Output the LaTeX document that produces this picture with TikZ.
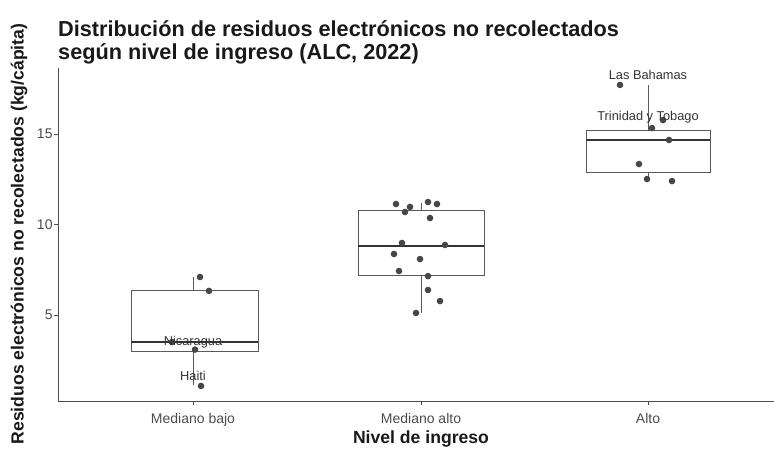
\documentclass[tikz,border=0pt]{standalone}
\usepackage{fontspec}
\setmainfont{Liberation Sans}
\usetikzlibrary{positioning}

\begin{document}
\begin{tikzpicture}[x=1pt,y=1pt,
    dot/.style={circle,fill=black!72,inner sep=0pt,minimum size=6.6pt},
    boxline/.style={draw=black!65,line width=0.9pt},
    median/.style={draw=black!80,line width=2.3pt},
    axis/.style={draw=black!70,line width=0.9pt},
    ticklab/.style={font=\fontsize{14}{14}\selectfont,text=black!70,inner sep=1pt},
    lab/.style={font=\fontsize{12.8}{13}\selectfont,text=black!80,inner sep=0pt},
    axtitle/.style={font=\fontsize{17.6}{18}\selectfont\bfseries,text=black!90,inner sep=0pt},
    maintitle/.style={font=\fontsize{21.7}{23}\selectfont\bfseries,text=black!90,inner sep=0pt,anchor=base west}]
  \useasboundingbox (0,0) rectangle (774,450);

  %% Title
  \node[maintitle] (title1) at (58,413) {Distribución de residuos electrónicos no recolectados};
  \node[maintitle] (title2) at ([yshift=-23pt]title1.base west) {según nivel de ingreso (ALC, 2022)};

  %% Axis titles
  \node[axtitle,rotate=90] (ytitle) at (19,216) {Residuos electrónicos no recolectados (kg/cápita)};
  \node[axtitle,anchor=base] (xtitle) at (421,7) {Nivel de ingreso};

  \begin{scope}[yshift=44.5pt,y=18.1pt]
    %%%%%%%%%%%%%%%%%%%%%%%%%%%%%%%%%%%%%%%%%%%%%%%%%%%%%%%%%%%
    %% Axes
    %%%%%%%%%%%%%%%%%%%%%%%%%%%%%%%%%%%%%%%%%%%%%%%%%%%%%%%%%%%
    \coordinate (o)    at (58,0.25);
    \coordinate (ytop) at (58,18.65);
    \coordinate (xend) at (774,0.25);
    \draw[axis] (ytop) -- (o) -- (xend);

    \coordinate (y5)  at (58,5);
    \coordinate (y10) at (58,10);
    \coordinate (y15) at (58,15);
    \draw[axis] (y5)  -- ++(-4,0) node[ticklab,left] {5};
    \draw[axis] (y10) -- ++(-4,0) node[ticklab,left] {10};
    \draw[axis] (y15) -- ++(-4,0) node[ticklab,left] {15};

    \coordinate (xbajo) at (193,0.25);
    \coordinate (xalto) at (421,0.25);
    \coordinate (xrico) at (648,0.25);
    \draw[axis] (xbajo) -- ++(0,-4pt) coordinate (tbajo);
    \draw[axis] (xalto) -- ++(0,-4pt) coordinate (talto);
    \draw[axis] (xrico) -- ++(0,-4pt) coordinate (trico);
    \node[ticklab,below=7pt of tbajo] (lbajo) {Mediano bajo};
    \node[ticklab,below=7pt of talto] (lalto) {Mediano alto};
    \node[ticklab,below=7pt of trico] (lrico) {Alto};

    %%%%%%%%%%%%%%%%%%%%%%%%%%%%%%%%%%%%%%%%%%%%%%%%%%%%%%%%%%%
    %% Mediano bajo
    %%%%%%%%%%%%%%%%%%%%%%%%%%%%%%%%%%%%%%%%%%%%%%%%%%%%%%%%%%%
    \draw[boxline] (193,6.33) -- (193,7.10);
    \draw[boxline] (193,2.96) -- (193,1.13);
    \draw[boxline] (131,2.96) rectangle (258,6.33);
    \draw[median]  (131,3.51) -- (258,3.51);

    \node[dot] (b1) at (200,7.10) {};
    \node[dot] (b2) at (209,6.33) {};
    \node[dot] (b3) at (172,3.51) {};
    \node[dot] (b4) at (195,3.09) {};
    \node[dot] (b5) at (201,1.08) {};

    \node[lab] (nicaragua) at (193,3.51) {Nicaragua};
    \node[lab] (haiti)     at (193,1.63) {Haiti};

    %%%%%%%%%%%%%%%%%%%%%%%%%%%%%%%%%%%%%%%%%%%%%%%%%%%%%%%%%%%
    %% Mediano alto
    %%%%%%%%%%%%%%%%%%%%%%%%%%%%%%%%%%%%%%%%%%%%%%%%%%%%%%%%%%%
    \draw[boxline] (421,10.80) -- (421,11.19);
    \draw[boxline] (421,7.21) -- (421,5.11);
    \draw[boxline] (358,7.21) rectangle (484,10.80);
    \draw[median]  (358,8.81) -- (484,8.81);

    \node[dot] (m1)  at (396,11.13) {};
    \node[dot] (m2)  at (410,10.97) {};
    \node[dot] (m3)  at (405,10.69) {};
    \node[dot] (m4)  at (428,11.24) {};
    \node[dot] (m5)  at (437,11.13) {};
    \node[dot] (m6)  at (430,10.36) {};
    \node[dot] (m7)  at (402,8.98) {};
    \node[dot] (m8)  at (445,8.87) {};
    \node[dot] (m9)  at (394,8.37) {};
    \node[dot] (m10) at (420,8.09) {};
    \node[dot] (m11) at (399,7.43) {};
    \node[dot] (m12) at (428,7.15) {};
    \node[dot] (m13) at (428,6.38) {};
    \node[dot] (m14) at (440,5.77) {};
    \node[dot] (m15) at (416,5.11) {};

    %%%%%%%%%%%%%%%%%%%%%%%%%%%%%%%%%%%%%%%%%%%%%%%%%%%%%%%%%%%
    %% Alto
    %%%%%%%%%%%%%%%%%%%%%%%%%%%%%%%%%%%%%%%%%%%%%%%%%%%%%%%%%%%
    \draw[boxline] (648,15.22) -- (648,17.71);
    \draw[boxline] (648,12.90) -- (648,12.40);
    \draw[boxline] (586,12.90) rectangle (710,15.22);
    \draw[median]  (586,14.67) -- (710,14.67);

    \node[dot] (a1) at (620,17.71) {};
    \node[dot] (a2) at (663,15.77) {};
    \node[dot] (a3) at (652,15.33) {};
    \node[dot] (a4) at (669,14.67) {};
    \node[dot] (a5) at (639,13.34) {};
    \node[dot] (a6) at (647,12.51) {};
    \node[dot] (a7) at (672,12.40) {};

    \node[lab] (bahamas)  at (648,18.26) {Las Bahamas};
    \node[lab] (trinidad) at (648,15.94) {Trinidad y Tobago};
  \end{scope}
\end{tikzpicture}
\end{document}
